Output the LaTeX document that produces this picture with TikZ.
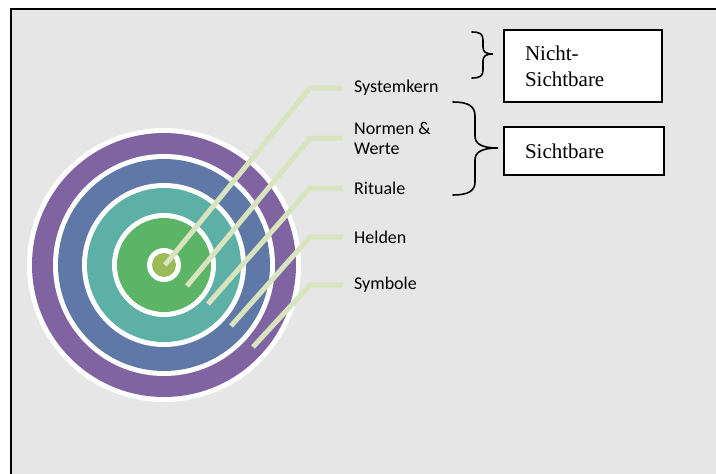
\documentclass[tikz,border=0pt]{standalone}
\usepackage{fontspec}
\setmainfont{Liberation Serif}
\newfontfamily\labelfont{Carlito}
\definecolor{bgGray}{RGB}{230,230,230}
\definecolor{ringPurple}{RGB}{128,100,162}
\definecolor{ringBlue}{RGB}{95,120,168}
\definecolor{ringTeal}{RGB}{93,176,166}
\definecolor{ringGreen}{RGB}{92,181,103}
\definecolor{coreGreen}{RGB}{155,187,89}
\definecolor{calloutGreen}{RGB}{215,228,189}
\tikzset{
  callout/.style={draw=calloutGreen, line width=5pt, line cap=butt, line join=miter},
  lbl/.style={anchor=west, inner xsep=11pt, inner ysep=0pt, align=left,
    font=\labelfont\fontsize{18}{20}\selectfont, text=black},
  infobox/.style={draw=black, line width=1.5pt, fill=white, inner xsep=21pt,
    align=left, font=\fontsize{21}{26}\selectfont},
  bracepath/.style={draw=black, line width=1.6pt, line cap=round}
}
\begin{document}
\begin{tikzpicture}[x=1pt,y=-1pt]
\useasboundingbox (0,0) rectangle (716,474);
\clip (0,0) rectangle (716,474);
% frame
\draw[fill=bgGray, line width=2pt] (11,9) rectangle (740,500);
% target rings
\coordinate (c) at (164,265);
\fill[white] (c) circle (137pt);
\fill[ringPurple] (c) circle (132pt);
\fill[white] (c) circle (111pt);
\fill[ringBlue] (c) circle (106pt);
\fill[white] (c) circle (82pt);
\fill[ringTeal] (c) circle (77pt);
\fill[white] (c) circle (52pt);
\fill[ringGreen] (c) circle (47pt);
\fill[white] (c) circle (17pt);
\fill[coreGreen] (c) circle (12pt);
% labels
\node[lbl] (sys) at (343,88) {Systemkern};
\node[lbl] (norm) at (343,138) {Normen \&\\Werte};
\node[lbl] (rit) at (343,188) {Rituale};
\node[lbl] (held) at (343,237) {Helden};
\node[lbl] (sym) at (343,285) {Symbole};
% callout start points and bends
\coordinate (pSys) at (165,265);
\coordinate (pNorm) at (187,286);
\coordinate (pRit) at (208,304);
\coordinate (pHeld) at (231,326);
\coordinate (pSym) at (253,347);
\draw[callout] (pSys) -- (310,88) -- (sys.west);
\draw[callout] (pNorm) -- (310,138) -- (norm.west);
\draw[callout] (pRit) -- (310,188) -- (rit.west);
\draw[callout] (pHeld) -- (310,237) -- (held.west);
\draw[callout] (pSym) -- (310,285) -- (sym.west);
% boxes
\node[infobox, minimum width=158pt, minimum height=72pt, text width=116pt] (nicht) at (583,66) {Nicht-\\Sichtbare};
\node[infobox, minimum width=160pt, minimum height=48pt, text width=118pt] (sicht) at (584,151) {Sichtbare};
% braces
\draw[bracepath] (472,32) .. controls (480,32) and (483,34) .. (483,40) -- (483,47)
  .. controls (483,52) and (486,54) .. (493,54)
  .. controls (486,54) and (483,56) .. (483,61) -- (483,70)
  .. controls (483,76) and (480,78) .. (472,78);
\draw[bracepath] (453,102) .. controls (468,102) and (475,106) .. (475,116) -- (475,136)
  .. controls (475,144) and (482,148) .. (498,148)
  .. controls (482,148) and (475,152) .. (475,160) -- (475,182)
  .. controls (475,191) and (468,195) .. (453,195);
\end{tikzpicture}
\end{document}
